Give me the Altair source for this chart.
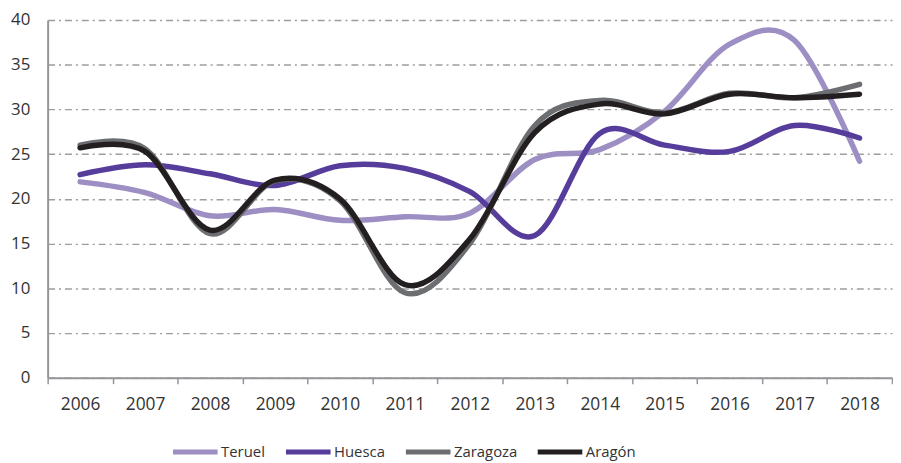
import altair as alt
import pandas as pd

years = [2006, 2007, 2008, 2009, 2010, 2011, 2012, 2013, 2014, 2015, 2016, 2017, 2018]
teruel = [21.9, 20.7, 18.1, 18.8, 17.6, 18.0, 18.4, 24.4, 25.5, 29.8, 37.3, 37.7, 24.2]
huesca = [22.7, 23.8, 22.8, 21.5, 23.7, 23.4, 20.8, 15.9, 27.3, 26.0, 25.3, 28.2, 26.8]
zaragoza = [26.0, 25.6, 16.1, 22.0, 19.8, 9.5, 15.0, 28.2, 31.0, 29.6, 31.8, 31.3, 32.8]
aragon = [25.7, 25.3, 16.5, 22.1, 20.0, 10.4, 15.5, 27.4, 30.6, 29.5, 31.7, 31.3, 31.7]

series_names = ["Teruel", "Huesca", "Zaragoza", "Aragón"]
series_colors = ["#9d8ec4", "#563d9b", "#6d6e71", "#231f20"]
y_ticks = [0, 5, 10, 15, 20, 25, 30, 35, 40]

rows = []
for name, vals in zip(series_names, [teruel, huesca, zaragoza, aragon]):
    for yr, v in zip(years, vals):
        rows.append({"year": str(yr), "serie": name, "valor": v})
df = pd.DataFrame(rows)

FONT = "Open Sans"
AXIS_GRAY = "#939598"

chart = alt.Chart(df).mark_line(
    interpolate="cardinal", strokeWidth=5.5, strokeCap="round", strokeJoin="round"
).encode(
    x=alt.X(
        "year:O",
        bandPosition=0.5,
        scale=alt.Scale(type="band", paddingInner=0, paddingOuter=0),
        axis=alt.Axis(
            title=None, labelAngle=0, tickBand="extent", grid=False,
            domainColor=AXIS_GRAY, domainWidth=2, tickColor=AXIS_GRAY,
            tickSize=6, tickWidth=1.5, labelPadding=12,
            labelFont=FONT, labelFontSize=17.5, labelColor="#333333",
        ),
    ),
    y=alt.Y(
        "valor:Q",
        scale=alt.Scale(domain=[0, 40]),
        axis=alt.Axis(
            title=None, values=y_ticks, ticks=False,
            domainColor=AXIS_GRAY, domainWidth=2,
            grid=True, gridColor="#9d9d9d", gridWidth=1.4, gridDash=[7, 4, 2, 4],
            labelPadding=18, labelFont=FONT, labelFontSize=17, labelColor="#333333",
        ),
    ),
    color=alt.Color(
        "serie:N",
        sort=series_names,
        scale=alt.Scale(domain=series_names, range=series_colors),
        legend=alt.Legend(
            title=None, orient="none", direction="horizontal",
            legendX=124, legendY=411,
            symbolType="stroke", symbolSize=2025, symbolStrokeWidth=5,
            labelFont=FONT, labelFontSize=15, labelColor="#333333",
            labelOffset=1, columnPadding=10,
        ),
    ),
).properties(
    width=852, height=361,
    autosize=alt.AutoSizeParams(type="none"),
    padding={"left": 40, "top": 10, "right": 1, "bottom": 83},
).configure_view(stroke=None)

chart.save("out.html", embed_options={"renderer": "svg", "actions": False})
